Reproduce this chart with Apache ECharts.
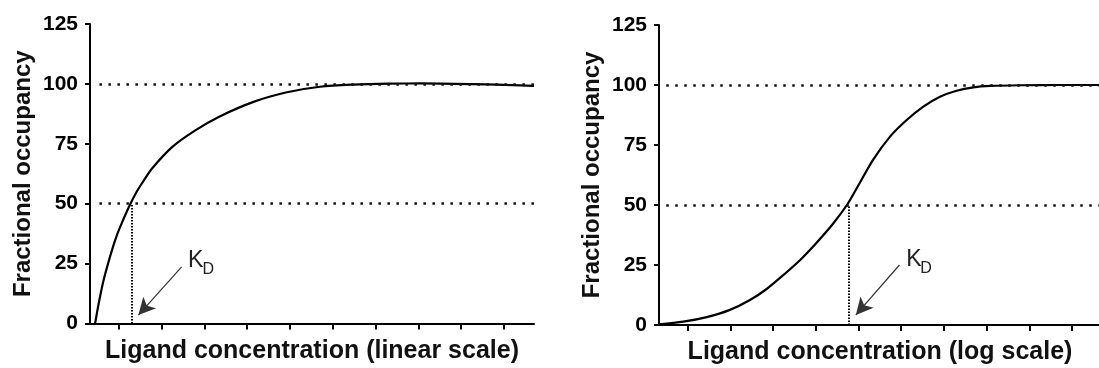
<!DOCTYPE html>
<html>
<head>
<meta charset="utf-8">
<script src="https://cdn.jsdelivr.net/npm/echarts@6/dist/echarts.min.js"></script>
<style>
html,body{margin:0;padding:0;background:#fff;}
#chart{width:1099px;height:368px;}
</style>
</head>
<body>
<div id="chart"></div>
<script>
// ---- data (x in axis tick units, y = fractional occupancy %) ----
const leftX  = [0.12, 0.20, 0.31, 0.47, 0.62, 0.78, 0.93, 1.09, 1.25, 1.44, 1.91, 2.45, 3.04, 3.82, 4.60, 5.37, 6.15, 7.00, 7.71, 8.94, 10.05, 10.37];
const leftY  = [0, 8, 17.5, 28, 36.5, 43.5, 49.5, 55, 59.5, 64.5, 73.5, 80.5, 86.5, 92.5, 96.5, 98.8, 99.7, 100.1, 100.2, 99.9, 99.4, 99.2];
const rightX = [0.00, 0.57, 1.12, 1.66, 2.13, 2.52, 2.91, 3.30, 3.69, 4.08, 4.40, 4.63, 5.02, 5.41, 5.80, 6.19, 6.58, 6.97, 7.36, 7.75, 8.50, 9.39, 10.35];
const rightY = [0.3, 1.4, 3.3, 6.3, 10.4, 15.0, 20.8, 27, 34.3, 42.3, 50, 57, 69, 78.5, 85.4, 91, 95.1, 97.6, 99, 99.6, 99.9, 100, 100];
const xTickPositions = [0.67, 1.67, 2.67, 3.67, 4.67, 5.67, 6.67, 7.67, 8.67, 9.67];
const xMaxLeft = 10.37, xMaxRight = 10.35;
const yTicks = [0, 25, 50, 75, 100, 125];
const refLevels = [50, 100];
const kdLeft = 0.974, kdRight = 4.45;
const arrowLeft  = [[2.14, 23.6], [1.13, 3.5]];
const arrowRight = [[5.63, 25.0], [4.61, 4.2]];
const kdLabelLeft  = {K: [2.47, 26.4], D: [2.76, 22.7]};
const kdLabelRight = {K: [5.97, 27.1], D: [6.25, 23.3]};
const yName = 'Fractional occupancy';
const xNameLeft = 'Ligand concentration (linear scale)';
const xNameRight = 'Ligand concentration (log scale)';

const FONT = '"Liberation Sans", Arial, sans-serif';

function yAxisCfg(gridIndex) {
  return {
    type: 'value', gridIndex, min: yTicks[0], max: yTicks[yTicks.length - 1], interval: 25,
    axisLine: {show: true, onZero: false, lineStyle: {color: '#000', width: 2}},
    axisTick: {show: true, length: 5, lineStyle: {color: '#000', width: 2}},
    axisLabel: {fontSize: 21, fontWeight: 'bold', color: '#000', margin: 12, fontFamily: FONT},
    splitLine: {show: false},
    name: yName, nameLocation: 'middle', nameGap: 55,
    nameTextStyle: {fontSize: 24, fontWeight: 'bold', color: '#111', fontFamily: FONT}
  };
}
function xAxisCfg(gridIndex, max, name) {
  return {
    type: 'value', gridIndex, min: 0, max: max,
    axisLine: {show: true, onZero: false, lineStyle: {color: '#000', width: 2}},
    axisTick: {show: true, customValues: xTickPositions, length: 6, lineStyle: {color: '#000', width: 2}},
    axisLabel: {show: false},
    splitLine: {show: false},
    name: name, nameLocation: 'middle', nameGap: 15,
    nameTextStyle: {fontSize: 25, fontWeight: 'bold', color: '#111', fontFamily: FONT}
  };
}
function marks(xStart, xMax, kd, arrow) {
  const dotStyle = {type: [2.5, 6.5], width: 2.5, color: '#111'};
  const data = refLevels.map(v => [{coord: [xStart, v], lineStyle: dotStyle}, {coord: [xMax, v]}]);
  data.push([{coord: [kd, 0], lineStyle: {type: [1.5, 1.5], width: 2, color: '#000'}}, {coord: [kd, 50]}]);
  data.push([{coord: arrow[0], symbol: 'none', lineStyle: {type: 'solid', width: 1.2, color: '#333'}},
             {coord: arrow[1], symbol: 'arrow', symbolSize: [13, 17]}]);
  return {silent: true, animation: false, symbol: ['none', 'none'], label: {show: false},
          emphasis: {disabled: true}, data};
}
function kdPoints(lbl) {
  const base = {symbol: 'rect', symbolSize: 1, itemStyle: {color: 'rgba(0,0,0,0)'}};
  return {silent: true, animation: false, data: [
    Object.assign({coord: lbl.K, value: 'K', label: {show: true, position: 'inside', formatter: 'K', fontSize: 23, color: '#222', fontFamily: FONT}}, base),
    Object.assign({coord: lbl.D, value: 'D', label: {show: true, position: 'inside', formatter: 'D', fontSize: 16, color: '#222', fontFamily: FONT}}, base)
  ]};
}

const chart = echarts.init(document.getElementById('chart'), null, {renderer: 'canvas'});
chart.setOption({
  animation: false,
  backgroundColor: '#fff',
  grid: [
    {left: 90, top: 24, width: 444, height: 299.5, containLabel: false, outerBoundsMode: 'none'},
    {left: 659, top: 25, width: 442, height: 300, containLabel: false, outerBoundsMode: 'none'}
  ],
  xAxis: [xAxisCfg(0, xMaxLeft, xNameLeft), xAxisCfg(1, xMaxRight, xNameRight)],
  yAxis: [yAxisCfg(0), yAxisCfg(1)],
  series: [
    {
      type: 'line', xAxisIndex: 0, yAxisIndex: 0,
      data: leftX.map((x, i) => [x, leftY[i]]),
      showSymbol: false, smooth: 0.3,
      lineStyle: {color: '#000', width: 2.2},
      markLine: marks(0.22, xMaxLeft, kdLeft, arrowLeft),
      markPoint: kdPoints(kdLabelLeft)
    },
    {
      type: 'line', xAxisIndex: 1, yAxisIndex: 1,
      data: rightX.map((x, i) => [x, rightY[i]]),
      showSymbol: false, smooth: 0.3,
      lineStyle: {color: '#000', width: 2.2},
      markLine: marks(0.17, xMaxRight, kdRight, arrowRight),
      markPoint: kdPoints(kdLabelRight)
    }
  ]
});
</script>
</body>
</html>
